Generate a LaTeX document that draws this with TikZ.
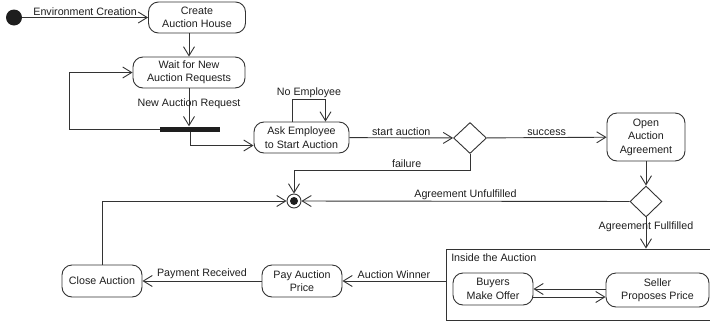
\documentclass[tikz,border=0pt]{standalone}
\usepackage{fontspec}
\setmainfont{Liberation Sans}
\usetikzlibrary{
  arrows.meta,
  positioning,
  shapes.geometric,
  calc
}
\definecolor{umlline}{HTML}{333333}
\definecolor{umltext}{HTML}{1E1E1E}

\begin{document}
\begin{tikzpicture}[
  x=1pt, y=-1pt,
  every node/.style={font=\fontsize{10.7}{13.4}\selectfont, text=umltext},
  act/.style={
    draw=umlline, line width=0.9pt, rounded corners=10pt, fill=white,
    align=center, inner sep=2pt,
  },
  dec/.style={
    draw=umlline, line width=0.9pt, diamond, fill=white,
    minimum width=33pt, minimum height=31pt, inner sep=0pt,
  },
  startnode/.style={circle, fill=umltext, minimum size=16pt, inner sep=0pt},
  endnode/.style={
    circle, draw=umlline, line width=0.9pt, minimum size=14pt, inner sep=0pt,
    path picture={\fill[umltext] (path picture bounding box.center) circle (4pt);},
  },
  forkbar/.style={fill=umltext, minimum width=60pt, minimum height=5pt, inner sep=0pt},
  region/.style={draw=umlline, line width=0.9pt, minimum width=265pt, minimum height=71pt},
  flow/.style={draw=umlline, line width=0.9pt, -{Straight Barb[length=9pt, width=11pt]}},
  lbl/.style={inner sep=1.5pt},
]
\useasboundingbox (0,0) rectangle (710,322);

\node[startnode] (init) at (14,17.5) {};
\node[act, minimum width=97pt, minimum height=31pt] (create) at (197,17.5) {Create\\Auction House};
\node[act, minimum width=112pt, minimum height=31pt] (wait) at (189,72.5) {Wait for New\\Auction Requests};
\node[forkbar] (bar) at (190,129) {};
\node[act, minimum width=95pt, minimum height=31pt] (ask) at (301.5,137.5) {Ask Employee\\to Start Auction};
\node[dec] (dec1) at (470,138) {};
\node[act, minimum width=78pt, minimum height=48pt] (open) at (646,137) {Open\\Auction\\Agreement};
\node[dec, minimum width=32pt] (dec2) at (646,201.5) {};
\node[endnode] (final) at (294,201) {};
\node[region] (auction) at (578.5,284.5) {};
\node[act, minimum width=80pt, minimum height=32pt] (buyers) at (493,289) {Buyers\\Make Offer};
\node[act, minimum width=103pt, minimum height=34pt] (seller) at (657.5,290) {Seller\\Proposes Price};
\node[act, minimum width=80pt, minimum height=32pt] (pay) at (302,281) {Pay Auction\\Price};
\node[act, minimum width=80pt, minimum height=32pt] (close) at (102,281) {Close Auction};

% arrows
\draw[flow] (init) -- node[lbl, above] {Environment Creation} (create);
\draw[flow] (wait.north |- create.south) -- (wait.north);
\draw[flow] (wait.south) -- node[lbl, pos=0.4] {New Auction Request} (wait.south |- bar.north);
\draw[flow] (bar.west) -- ++(-90,0) |- (wait.west);
\draw[flow] (bar.south) |- ([yshift=-8pt]ask.west);
\draw[flow] ([xshift=-9pt]ask.north) -- ++(0,-22) -| node[lbl, above, pos=0.25] {No Employee} ([xshift=24pt]ask.north);
\draw[flow] (ask) -- node[lbl, above] {start auction} (dec1);
\draw[flow] (dec1) -- node[lbl, above] {success} (open);
\draw[flow] (dec1.south) -- ++(0,16) -| node[lbl, above, pos=0.18] {failure} (final.north);
\draw[flow] (open) -- (dec2);
\draw[flow] (dec2) -- node[lbl, above] {Agreement Unfulfilled} (final);
\draw[flow] (dec2.south) -- node[lbl, pos=0.3] {Agreement Fullfilled} (dec2.south |- auction.north);
\draw[flow] (auction.west |- pay.east) -- node[lbl, above] {Auction Winner} (pay.east);
\draw[flow] (pay) -- node[lbl, above] {Payment Received} (close);
\draw[flow] (close.north) |- (final.west);
\draw[flow] (seller.west |- buyers.east) -- (buyers.east);
\draw[flow] ([yshift=-8pt]buyers.east) -- ([yshift=-8pt]buyers.east -| seller.west);

% annotations
\node[lbl, anchor=north west] at ([xshift=4pt, yshift=-3pt]auction.north west) {Inside the Auction};

\end{tikzpicture}
\end{document}
